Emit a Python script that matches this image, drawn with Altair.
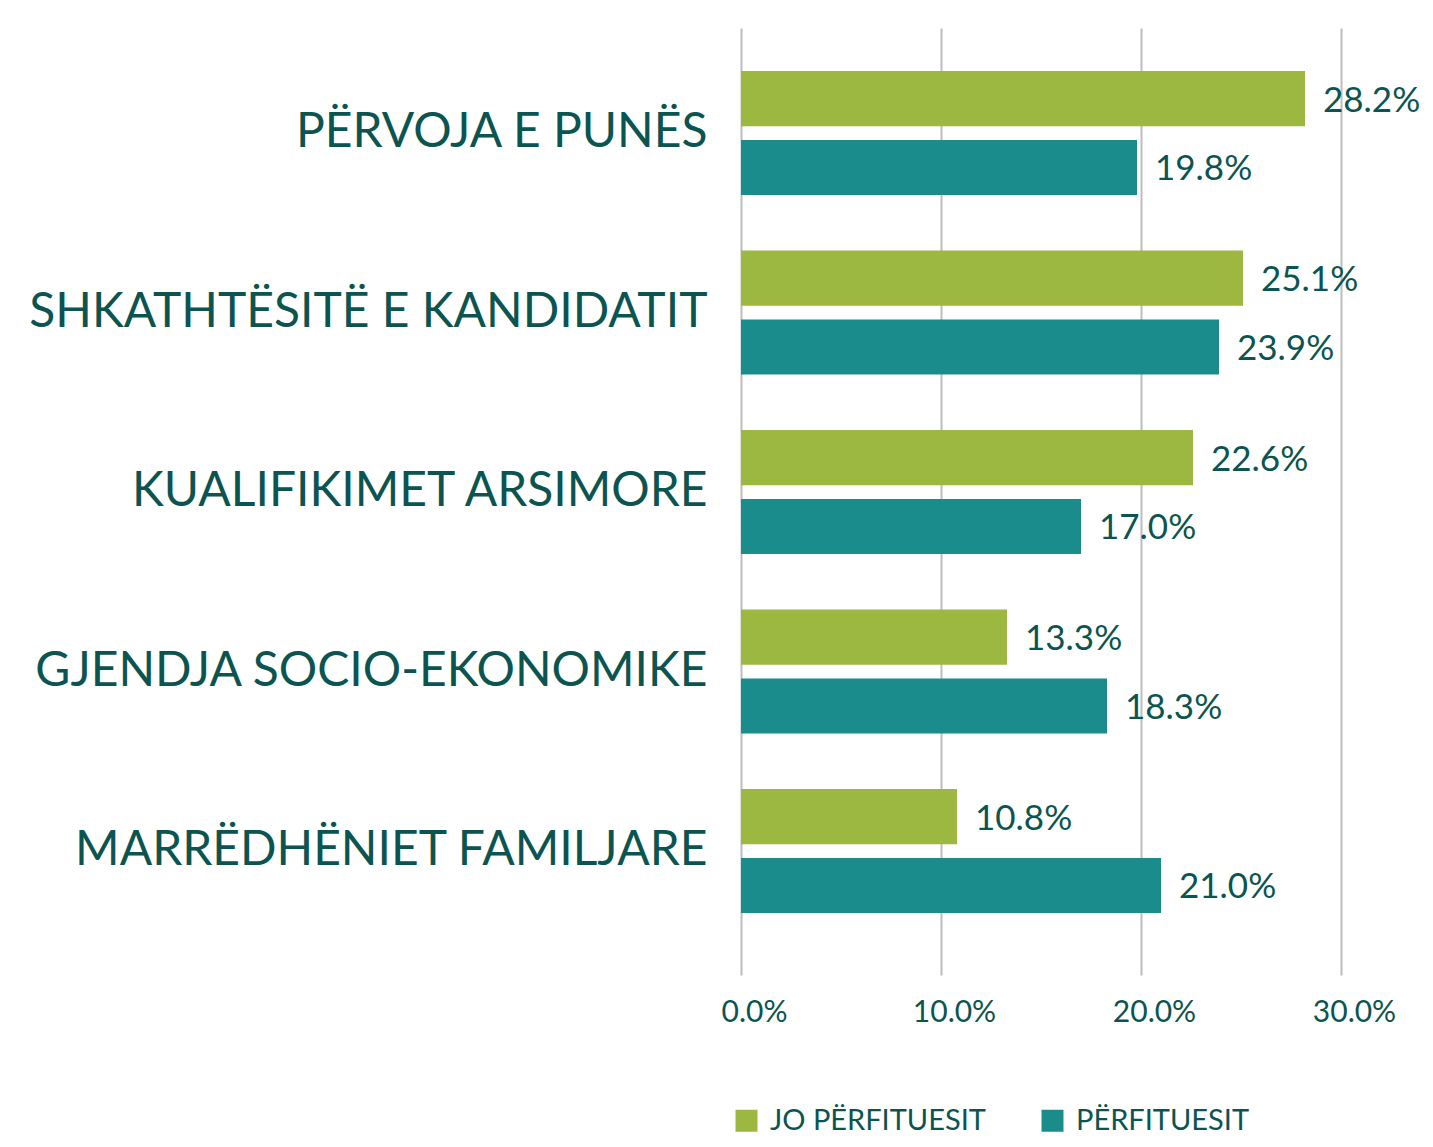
import altair as alt
import pandas as pd

categories = ["PËRVOJA E PUNËS", "SHKATHTËSITË E KANDIDATIT", "KUALIFIKIMET ARSIMORE",
              "GJENDJA SOCIO-EKONOMIKE", "MARRËDHËNIET FAMILJARE"]
series = ["JO PËRFITUESIT", "PËRFITUESIT"]
jo_perfituesit = [28.2, 25.1, 22.6, 13.3, 10.8]
perfituesit = [19.8, 23.9, 17.0, 18.3, 21.0]
x_ticks = [0, 0.1, 0.2, 0.3]

rows = []
for c, a, b in zip(categories, jo_perfituesit, perfituesit):
    rows.append({"cat": c, "series": series[0], "value": a / 100})
    rows.append({"cat": c, "series": series[1], "value": b / 100})
df = pd.DataFrame(rows)

TEXT = "#0b5450"
FONT = "Lato"

y_enc = alt.Y("cat:N", sort=categories, title=None,
              scale=alt.Scale(domain=categories, paddingInner=0.31, paddingOuter=0.293,
                              align=0.41),
              axis=alt.Axis(labelFontSize=48, labelColor=TEXT, labelFont=FONT,
                            labelPadding=34, ticks=False, domain=False,
                            labelLimit=1000, grid=False))
yoff = alt.YOffset("series:N", sort=series,
                   scale=alt.Scale(domain=series, paddingInner=0.2, paddingOuter=0))
x_enc = alt.X("value:Q", title=None,
              scale=alt.Scale(domain=[0, 0.3], nice=False),
              axis=alt.Axis(values=x_ticks, format=".1%", grid=True, gridColor="#bdbdbd",
                            gridWidth=2, domain=False, ticks=False, labelFontSize=30,
                            labelColor=TEXT, labelFont=FONT, labelPadding=22,
                            labelOffset=13, labelFlush=False))

color = alt.Color("series:N", sort=series, title=None,
                  scale=alt.Scale(domain=series, range=["#9db840", "#1b8c8c"]),
                  legend=alt.Legend(orient="none", legendX=-9, legendY=1078,
                                    direction="horizontal", symbolType="square",
                                    symbolSize=484, symbolStrokeWidth=0,
                                    labelFontSize=29, labelColor=TEXT, labelFont=FONT,
                                    labelOffset=9, columnPadding=52, labelLimit=600))

bars = alt.Chart(df).mark_bar().encode(y=y_enc, yOffset=yoff, x=x_enc, color=color)
labels = alt.Chart(df).mark_text(align="left", baseline="middle", dx=18, dy=2, fontSize=35,
                                 font=FONT, color=TEXT).encode(
    y=alt.Y("cat:N", sort=categories), yOffset=yoff, x="value:Q",
    text=alt.Text("value:Q", format=".1%"))

chart = (bars + labels).properties(
    width=600, height=947,
    autosize=alt.AutoSizeParams(type="none"),
    padding={"left": 733, "top": 20, "right": 82, "bottom": 162},
).configure_view(stroke=None)

chart.save("out.html", embed_options={"renderer": "svg", "actions": False})
